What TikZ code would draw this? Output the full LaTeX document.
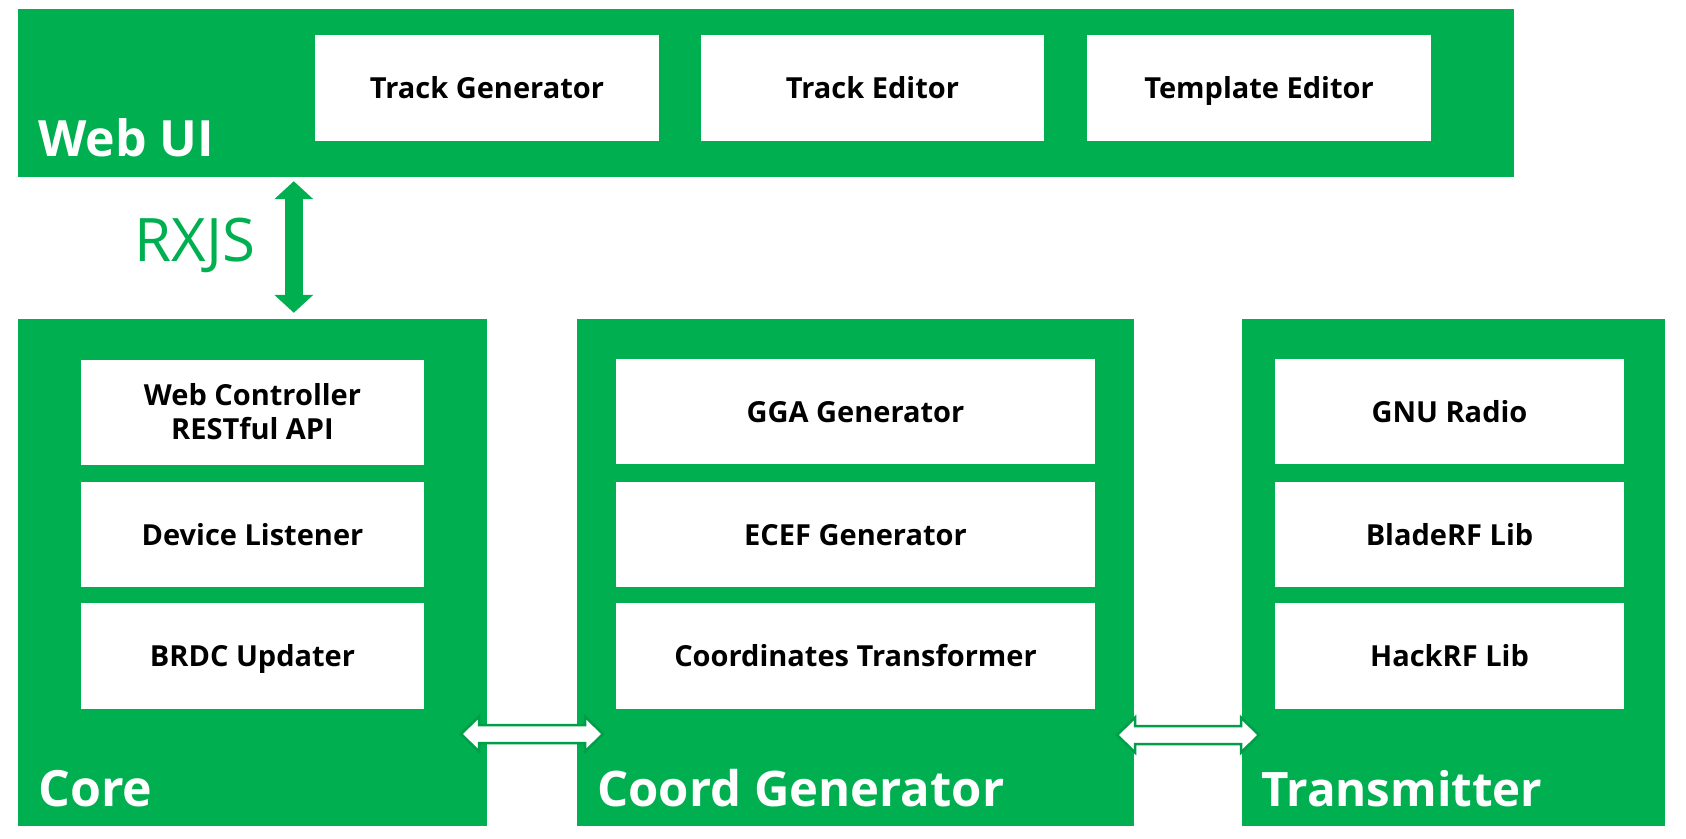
\documentclass[tikz,border=0pt]{standalone}
\usepackage{fontspec}
\setmainfont{Open Sans}
\usetikzlibrary{arrows.meta,calc}
\definecolor{og}{RGB}{0,176,80}
\definecolor{ogd}{RGB}{0,158,72}
\tikzset{
  outer/.style={fill=og, draw=none},
  inner/.style={fill=white, draw=none, inner sep=0pt, align=center,
     font=\fontsize{29}{34}\selectfont\bfseries},
  oneline/.style={text height=24pt, text depth=3pt},
  biglabel/.style={anchor=base west, text=white, inner sep=0pt,
     font=\fontsize{50}{58}\selectfont\bfseries},
  harrow/.style={fill=white, draw=ogd, line width=2.5pt, line join=miter},
  varrow/.style={draw=og, line width=18pt,
     {Triangle[width=38pt,length=18pt]}-{Triangle[width=38pt,length=18pt]}}
}
\newcommand{\ib}[6]{% name, x1,y1,x2,y2, text
  \node[inner, oneline, minimum width=#4-#2, minimum height=#5-#3]
     (#1) at ({(#2+#4)/2},{(#3+#5)/2}) {#6};}
\begin{document}
\begin{tikzpicture}[x=1pt,y=-1pt]
\useasboundingbox (0,0) rectangle (1686,838);
% outer boxes
\node[outer, minimum width=1496pt, minimum height=168pt, inner sep=0pt] (webui) at (766,93) {};
\node[outer, minimum width=469pt, minimum height=507pt, inner sep=0pt] (core) at (252.5,572.5) {};
\node[outer, minimum width=557pt, minimum height=507pt, inner sep=0pt] (coord) at (855.5,572.5) {};
\node[outer, minimum width=423pt, minimum height=507pt, inner sep=0pt] (tx) at (1453.5,572.5) {};
% labels
\node[biglabel] (lweb) at (38,156) {Web UI};
\node[biglabel] (lcore) at (38,806) {Core};
\node[biglabel, font=\fontsize{49}{58}\selectfont\bfseries] (lcoord) at (597,806) {Coord Generator};
\node[biglabel, font=\fontsize{47.5}{58}\selectfont\bfseries] (ltx) at (1261,806) {Transmitter};
% web ui inner
\ib{tg}{315}{35}{659}{141}{Track Generator}
\ib{te}{701}{35}{1044}{141}{Track Editor}
\ib{tpe}{1087}{35}{1431}{141}{Template Editor}
% core inner
\node[inner, minimum width=343pt, minimum height=105pt] (wc) at (252.5,412)
  {Web Controller\\RESTful API};
\ib{dl}{81}{482}{424}{587}{Device Listener}
\ib{bu}{81}{603}{424}{709}{BRDC Updater}
% coord inner
\ib{gga}{616}{359}{1095}{464}{GGA Generator}
\ib{ecef}{616}{482}{1095}{587}{ECEF Generator}
\ib{ct}{616}{603}{1095}{709}{Coordinates Transformer}
% transmitter inner
\ib{gnu}{1275}{359}{1624}{464}{GNU Radio}
\ib{blade}{1275}{482}{1624}{587}{BladeRF Lib}
\ib{hack}{1275}{603}{1624}{709}{HackRF Lib}
% RXJS arrow
\coordinate (r1) at ($(webui.south west)+(276,4)$);
\coordinate (r2) at ($(core.north west)+(276,-6)$);
\draw[varrow] (r1) -- (r2);
\node[text=og, font=\fontsize{60}{68}\selectfont] (rxjs) at (195,245) {RXJS};
% horizontal arrows
\coordinate (h1) at ($(core.east)!0.5!(coord.west)$);
\draw[harrow] ($(h1|-0,734)+(-71,0)$) -- ++(18,-17.5) -- ++(0,8.5) -- ++(106,0)
  -- ++(0,-8.5) -- ++(18,17.5) -- ++(-18,17.5) -- ++(0,-8.5) -- ++(-106,0)
  -- ++(0,8.5) -- cycle;
\coordinate (h2) at ($(coord.east)!0.5!(tx.west)$);
\draw[harrow] ($(h2|-0,735)+(-71,0)$) -- ++(18,-17.5) -- ++(0,8.5) -- ++(106,0)
  -- ++(0,-8.5) -- ++(18,17.5) -- ++(-18,17.5) -- ++(0,-8.5) -- ++(-106,0)
  -- ++(0,8.5) -- cycle;
\end{tikzpicture}
\end{document}
